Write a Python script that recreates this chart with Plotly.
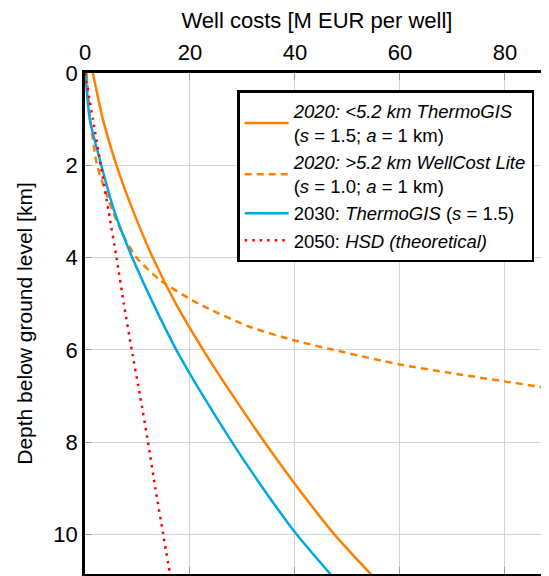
import plotly.graph_objects as go

# Depths [km] and well costs [M EUR per well]
depth_tg2020 = [0, 1, 2, 3, 4, 5, 6, 7, 8, 9, 10, 10.87]
cost_tg2020 = [1.5, 3.4, 6.0, 9.2, 12.9, 17.3, 22.5, 28.2, 34.2, 40.6, 47.5, 54.5]

depth_wcl2020 = [0, 1, 2, 3, 3.5, 4, 4.5, 5, 5.5, 5.8, 6, 6.32, 6.5, 6.69, 6.82, 6.9]
cost_wcl2020 = [0.3, 1.0, 2.3, 5.3, 7.2, 9.8, 14.4, 21.6, 31.3, 40.0, 47.3, 60.0, 69.5, 80.2, 87.8, 92.5]

depth_tg2030 = [0, 1, 2, 3, 4, 5, 6, 7, 8, 9, 10, 10.87]
cost_tg2030 = [0.1, 0.9, 3.1, 5.6, 9.0, 13.0, 17.4, 22.5, 28.0, 33.9, 40.3, 46.8]

depth_hsd2050 = [0, 1, 2, 3, 4, 5, 6, 7, 8, 9, 10, 10.87]
cost_hsd2050 = [0.0, 1.5, 3.0, 4.5, 6.0, 7.4, 8.9, 10.5, 12.0, 13.4, 14.9, 16.2]

names = [
    "<i>2020: &lt;5.2 km ThermoGIS</i><br>(<i>s</i> = 1.5; <i>a</i> = 1 km)",
    "<i>2020: &gt;5.2 km WellCost Lite</i><br>(<i>s</i> = 1.0; <i>a</i> = 1 km)",
    "2030: <i>ThermoGIS</i> (<i>s</i> = 1.5)",
    "2050: <i>HSD (theoretical)</i>",
]

x_ticks = [0, 20, 40, 60, 80]
y_ticks = [0, 2, 4, 6, 8, 10]

ORANGE = "#ff8000"
BLUE = "#00a8e6"
RED = "#ff0000"

fig = go.Figure()
fig.add_trace(go.Scatter(x=cost_tg2020, y=depth_tg2020, mode="lines", name=names[0],
                         line=dict(color=ORANGE, width=2.5, shape="spline", smoothing=0.6)))
fig.add_trace(go.Scatter(x=cost_wcl2020, y=depth_wcl2020, mode="lines", name=names[1],
                         line=dict(color=ORANGE, width=2.5, dash="7px,5px", shape="spline", smoothing=0.6)))
fig.add_trace(go.Scatter(x=cost_tg2030, y=depth_tg2030, mode="lines", name=names[2],
                         line=dict(color=BLUE, width=2.5, shape="spline", smoothing=0.6)))
fig.add_trace(go.Scatter(x=cost_hsd2050, y=depth_hsd2050, mode="lines", name=names[3],
                         line=dict(color=RED, width=2.5, dash="2.5px,5px", shape="spline", smoothing=0.6)))

fig.update_layout(
    width=541, height=568,
    margin=dict(l=77, r=0, t=65, b=2, pad=0),
    paper_bgcolor="white", plot_bgcolor="white",
    font=dict(family="Liberation Sans, Arial, sans-serif", size=20, color="black"),
    showlegend=True,
    legend=dict(
        x=0.328, y=0.966, xanchor="left", yanchor="top",
        bgcolor="white", bordercolor="black", borderwidth=2.5,
        font=dict(size=18.5, color="black"),
        tracegroupgap=0, itemwidth=44,
    ),
    xaxis=dict(
        side="top", range=[0, 88.4], tickvals=x_ticks, automargin=False,
        title=dict(text="Well costs [M EUR per well]", standoff=10, font=dict(size=22)),
        showline=True, linecolor="black", linewidth=2.5, mirror="ticks",
        ticks="inside", ticklen=7, tickcolor="#999999", tickwidth=1,
        showgrid=True, gridcolor="#d4d4d4", gridwidth=1, zeroline=False,
        tickfont=dict(size=22), ticklabelstandoff=1,
    ),
    yaxis=dict(
        range=[10.86, 0], tickvals=y_ticks, automargin=False,
        title=dict(text="Depth below ground level [km]", standoff=16, font=dict(size=21)),
        showline=True, linecolor="black", linewidth=2.5,
        ticks="inside", ticklen=7, tickcolor="#999999", tickwidth=1,
        showgrid=True, gridcolor="#d4d4d4", gridwidth=1, zeroline=False,
        tickfont=dict(size=22),
    ),
)

fig.write_html("out.html")
